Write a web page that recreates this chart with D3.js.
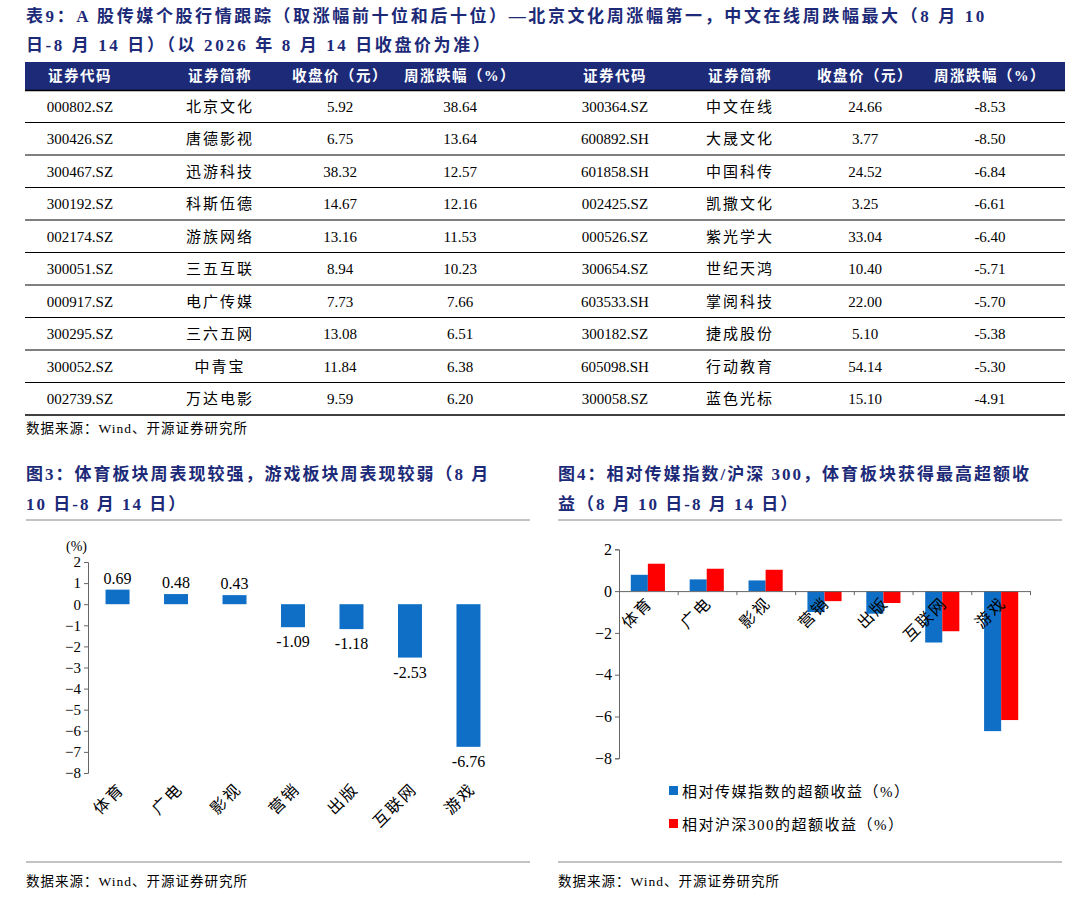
<!DOCTYPE html>
<html><head><meta charset="utf-8">
<script src="https://cdn.jsdelivr.net/npm/d3@7"></script>
<style>body{margin:0;background:#fff}</style>
</head><body><svg id="page"></svg>
<script>
// table data
var tableHeaders = ["证券代码","证券简称","收盘价（元）","周涨跌幅（%）"];
var topCodes = ["000802.SZ","300426.SZ","300467.SZ","300192.SZ","002174.SZ","300051.SZ","000917.SZ","300295.SZ","300052.SZ","002739.SZ"];
var topNames = ["北京文化","唐德影视","迅游科技","科斯伍德","游族网络","三五互联","电广传媒","三六五网","中青宝","万达电影"];
var topPrices = ["5.92","6.75","38.32","14.67","13.16","8.94","7.73","13.08","11.84","9.59"];
var topChanges = ["38.64","13.64","12.57","12.16","11.53","10.23","7.66","6.51","6.38","6.20"];
var botCodes = ["300364.SZ","600892.SH","601858.SH","002425.SZ","000526.SZ","300654.SZ","603533.SH","300182.SZ","605098.SH","300058.SZ"];
var botNames = ["中文在线","大晟文化","中国科传","凯撒文化","紫光学大","世纪天鸿","掌阅科技","捷成股份","行动教育","蓝色光标"];
var botPrices = ["24.66","3.77","24.52","3.25","33.04","10.40","22.00","5.10","54.14","15.10"];
var botChanges = ["-8.53","-8.50","-6.84","-6.61","-6.40","-5.71","-5.70","-5.38","-5.30","-4.91"];

// chart data
var sectors = ["体育","广电","影视","营销","出版","互联网","游戏"];
var weekReturn = [0.69,0.48,0.43,-1.09,-1.18,-2.53,-6.76];
var excessMedia = [0.78,0.56,0.51,-1.00,-1.08,-2.46,-6.70];
var excessHS300 = [1.31,1.07,1.02,-0.48,-0.57,-1.92,-6.17];
var leftTicks = [2,1,0,-1,-2,-3,-4,-5,-6,-7,-8];
var rightTicks = [2,0,-2,-4,-6,-8];

var W = 1080, H = 903;
var navy = "#1c2a78", blue = "#0f6fc6", red = "#ff0000";
var serif = "'Liberation Serif','Noto Sans CJK SC',serif";
var svg = d3.select("#page").attr("width",W).attr("height",H)
    .style("font-family",serif);

// title
var title = svg.append("g").attr("fill",navy).attr("font-weight","bold").attr("font-size",17).attr("letter-spacing",2.6);
title.append("text").attr("x",26).attr("y",22).text("表9：A 股传媒个股行情跟踪（取涨幅前十位和后十位）—北京文化周涨幅第一，中文在线周跌幅最大（8 月 10");
title.append("text").attr("x",26).attr("y",51).text("日-8 月 14 日）（以 2026 年 8 月 14 日收盘价为准）");

// table
var colX = [80,220,340,460,615,740,865,990];
var rowY = d3.scaleBand().domain(d3.range(10)).range([90,415]);
svg.append("rect").attr("x",25).attr("y",62).attr("width",1040).attr("height",28).attr("fill",navy);
svg.append("line").attr("x1",25).attr("x2",1065).attr("y1",90.5).attr("y2",90.5).attr("stroke","#000").attr("stroke-width",1.5);
tableHeaders.concat(tableHeaders).forEach(function(h,i){
    svg.append("text").attr("x",colX[i]).attr("y",81).attr("text-anchor","middle").attr("letter-spacing",1.5)
        .attr("fill","#fff").attr("font-weight","bold").attr("font-size",14.5).text(h);
});
d3.range(10).forEach(function(r){
    var vals = [topCodes[r],topNames[r],topPrices[r],topChanges[r],botCodes[r],botNames[r],botPrices[r],botChanges[r]];
    var y = rowY(r);
    vals.forEach(function(v,i){
        svg.append("text").attr("x",colX[i]).attr("y",y+rowY.bandwidth()/2+5.5)
            .attr("text-anchor","middle").attr("font-size",15).attr("fill","#000")
            .attr("letter-spacing",(i%4==1)?2:0).text(v);
    });
    svg.append("line").attr("x1",25).attr("x2",1065).attr("y1",y+rowY.bandwidth()).attr("y2",y+rowY.bandwidth())
        .attr("stroke","#000").attr("stroke-width",r==9?1.5:1);
});
svg.append("text").attr("x",26).attr("y",433).attr("font-size",13.5).attr("letter-spacing",1).text("数据来源：Wind、开源证券研究所");

// chart titles
var t3 = svg.append("g").attr("fill",navy).attr("font-weight","bold").attr("font-size",17).attr("letter-spacing",2);
t3.append("text").attr("x",26).attr("y",480).text("图3：体育板块周表现较强，游戏板块周表现较弱（8 月");
t3.append("text").attr("x",26).attr("y",510).text("10 日-8 月 14 日）");
t3.append("text").attr("x",558).attr("y",480).text("图4：相对传媒指数/沪深 300，体育板块获得最高超额收");
t3.append("text").attr("x",558).attr("y",510).text("益（8 月 10 日-8 月 14 日）");
[[26,530],[558,1062]].forEach(function(p){
    svg.append("line").attr("x1",p[0]).attr("x2",p[1]).attr("y1",520).attr("y2",520).attr("stroke","#888");
    svg.append("line").attr("x1",p[0]).attr("x2",p[1]).attr("y1",862).attr("y2",862).attr("stroke","#888");
});

// left chart
var lx = d3.scaleBand().domain(sectors).range([88,498]).paddingInner(0.59).paddingOuter(0.3);
var ly = d3.scaleLinear().domain([-8,2]).range([773,562]);
var lg = svg.append("g");
lg.append("g").attr("transform","translate(88,0)")
    .call(d3.axisLeft(ly).tickValues(leftTicks).tickSize(4).tickFormat(d3.format("d")))
    .call(function(g){g.selectAll("text").attr("font-size",15).attr("font-family",serif).attr("fill","#000");
        g.select(".domain").attr("stroke","#666");g.selectAll("line").attr("stroke","#666");});
lg.selectAll("rect").data(weekReturn).join("rect")
    .attr("x",function(d,i){return lx(sectors[i]);}).attr("width",lx.bandwidth())
    .attr("y",function(d){return ly(Math.max(0,d));})
    .attr("height",function(d){return Math.abs(ly(d)-ly(0));}).attr("fill",blue);
lg.selectAll(".vl").data(weekReturn).join("text")
    .attr("x",function(d,i){return lx(sectors[i])+lx.bandwidth()/2;})
    .attr("y",function(d){return d>0?ly(d)-6:ly(d)+20;})
    .attr("text-anchor","middle").attr("font-size",16).text(function(d){return d.toFixed(2);});
lg.selectAll(".cl").data(sectors).join("text")
    .attr("transform",function(d){return "translate("+(lx(d)+lx.bandwidth()/2+8)+",790) rotate(-45)";})
    .attr("text-anchor","end").attr("font-size",16).attr("letter-spacing",2).text(function(d){return d;});
lg.append("text").attr("x",66).attr("y",551).attr("font-size",14).text("(%)");
svg.append("text").attr("x",26).attr("y",886).attr("font-size",13.5).attr("letter-spacing",1).text("数据来源：Wind、开源证券研究所");

// right chart
var rx = d3.scaleBand().domain(sectors).range([619,1030]).paddingInner(0.42).paddingOuter(0.2);
var rsub = d3.scaleBand().domain(["m","h"]).range([0,rx.bandwidth()]);
var ry = d3.scaleLinear().domain([-8,2]).range([758.3,549.3]);
var rg = svg.append("g");
rg.append("g").attr("transform","translate(619,0)")
    .call(d3.axisLeft(ry).tickValues(rightTicks).tickSize(4).tickFormat(d3.format("d")))
    .call(function(g){g.selectAll("text").attr("font-size",16).attr("font-family",serif).attr("fill","#000");
        g.select(".domain").attr("stroke","#666");g.selectAll("line").attr("stroke","#666");});
[["m",excessMedia,blue],["h",excessHS300,red]].forEach(function(s){
    rg.selectAll(".b"+s[0]).data(s[1]).join("rect")
        .attr("x",function(d,i){return rx(sectors[i])+rsub(s[0]);}).attr("width",rsub.bandwidth())
        .attr("y",function(d){return ry(Math.max(0,d));})
        .attr("height",function(d){return Math.abs(ry(d)-ry(0));}).attr("fill",s[2]);
});
var rAxis = d3.axisBottom(d3.scaleLinear().domain([0,7]).range([619,1030])).ticks(7).tickSize(4).tickFormat("");
rg.append("g").attr("transform","translate(0,"+ry(0)+")").call(rAxis)
    .call(function(g){g.select(".domain").attr("stroke","#666");g.selectAll("line").attr("stroke","#666");});
rg.selectAll(".cl").data(sectors).join("text")
    .attr("transform",function(d){return "translate("+(rx(d)+rx.bandwidth()/2+6)+",604) rotate(-45)";})
    .attr("text-anchor","end").attr("font-size",16).attr("letter-spacing",2).text(function(d){return d;});
var legend = [["相对传媒指数的超额收益（%）",blue],["相对沪深300的超额收益（%）",red]];
legend.forEach(function(l,i){
    var y = 797+i*33;
    rg.append("rect").attr("x",669).attr("y",y-11).attr("width",9).attr("height",9).attr("fill",l[1]);
    rg.append("text").attr("x",682).attr("y",y).attr("font-size",15).attr("letter-spacing",1.5).text(l[0]);
});
svg.append("text").attr("x",558).attr("y",886).attr("font-size",13.5).attr("letter-spacing",1).text("数据来源：Wind、开源证券研究所");
</script></body></html>
